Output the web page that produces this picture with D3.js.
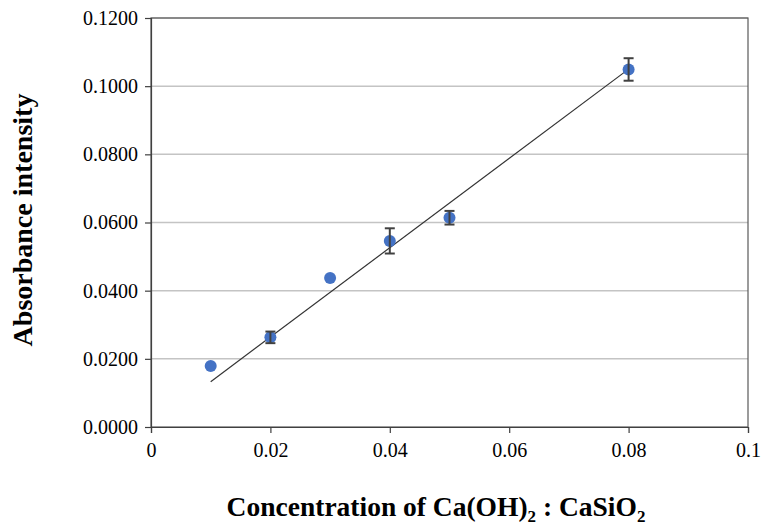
<!DOCTYPE html>
<html>
<head>
<meta charset="utf-8">
<script src="https://cdn.jsdelivr.net/npm/d3@7"></script>
<style>
  body { margin: 0; background: #fff; }
  svg text { font-family: "Liberation Serif", "Times New Roman", serif; }
</style>
</head>
<body>
<svg id="chart"></svg>
<script>
// data
const conc = [0.01, 0.02, 0.03, 0.04, 0.05, 0.08];
const absorb = [0.0179, 0.0263, 0.0437, 0.0546, 0.0614, 0.1049];
const errs = [0.0, 0.0017, 0.0, 0.0037, 0.002, 0.0033];
const trendX = [0.01, 0.08];
const trendY = [0.0133, 0.1050];
const xTicks = [0, 0.02, 0.04, 0.06, 0.08, 0.1];
const yTicks = [0, 0.02, 0.04, 0.06, 0.08, 0.1, 0.12];

const width = 763, height = 525;
const margin = { top: 18, right: 15, bottom: 98, left: 151 };
const serif = '"Liberation Serif", "Times New Roman", serif';

const svg = d3.select("#chart").attr("width", width).attr("height", height);

const x = d3.scaleLinear().domain([0, 0.1]).range([margin.left, width - margin.right]);
const y = d3.scaleLinear().domain([0, 0.12]).range([height - margin.bottom, margin.top]);

// gridlines
svg.append("g")
  .selectAll("line")
  .data(yTicks.slice(1))
  .enter()
  .append("line")
  .attr("x1", x(0))
  .attr("x2", x(0.1))
  .attr("y1", (d) => y(d))
  .attr("y2", (d) => y(d))
  .attr("stroke", "#c4c4c4")
  .attr("stroke-width", 1.5);

// plot border
svg.append("rect")
  .attr("x", x(0))
  .attr("y", y(0.12))
  .attr("width", x(0.1) - x(0))
  .attr("height", y(0) - y(0.12))
  .attr("fill", "none")
  .attr("stroke", "#595959")
  .attr("stroke-width", 1.2);

// axes
const yAxis = svg.append("g")
  .attr("transform", `translate(${x(0)},0)`)
  .call(d3.axisLeft(y).tickValues(yTicks).tickFormat(d3.format(".4f")).tickSize(6).tickPadding(7));

const xAxis = svg.append("g")
  .attr("transform", `translate(0,${y(0)})`)
  .call(d3.axisBottom(x).tickValues(xTicks).tickFormat((d) => d === 0 ? "0" : d3.format(".2~f")(d)).tickSize(6).tickPadding(10));

[yAxis, xAxis].forEach((a) => {
  a.attr("font-family", serif).attr("font-size", 20);
  a.select(".domain").attr("stroke", "#404040").attr("stroke-width", 1.2);
  a.selectAll(".tick line").attr("stroke", "#404040").attr("stroke-width", 1.2);
  a.selectAll("text").attr("fill", "#000");
});

// trend line
svg.append("path")
  .datum(trendX.map((d, i) => [d, trendY[i]]))
  .attr("fill", "none")
  .attr("stroke", "#333")
  .attr("stroke-width", 1.2)
  .attr("d", d3.line().x((d) => x(d[0])).y((d) => y(d[1])));

// points
svg.append("g")
  .selectAll("circle")
  .data(conc)
  .enter()
  .append("circle")
  .attr("cx", (d) => x(d))
  .attr("cy", (d, i) => y(absorb[i]))
  .attr("r", 6)
  .attr("fill", "#4472c4");

// error bars, drawn on top of the points
const eb = svg.append("g").attr("stroke", "#404040").attr("stroke-width", 2);
conc.forEach((c, i) => {
  if (!errs[i]) return;
  const cx = x(c);
  const top = y(absorb[i] + errs[i]), bot = y(absorb[i] - errs[i]);
  eb.append("line").attr("x1", cx).attr("x2", cx).attr("y1", top).attr("y2", bot);
  eb.append("line").attr("x1", cx - 5).attr("x2", cx + 5).attr("y1", top).attr("y2", top);
  eb.append("line").attr("x1", cx - 5).attr("x2", cx + 5).attr("y1", bot).attr("y2", bot);
});

// axis titles
const xt = svg.append("text")
  .attr("x", 436)
  .attr("y", 516)
  .attr("text-anchor", "middle")
  .attr("font-family", serif)
  .attr("font-size", 27.5)
  .attr("font-weight", "bold");
xt.append("tspan").text("Concentration of Ca(OH)");
xt.append("tspan").attr("font-size", 17).attr("dy", 6).text("2");
xt.append("tspan").attr("dy", -6).text(" : CaSiO");
xt.append("tspan").attr("font-size", 17).attr("dy", 6).text("2");

svg.append("text")
  .attr("transform", "translate(32,220) rotate(-90)")
  .attr("text-anchor", "middle")
  .attr("font-family", serif)
  .attr("font-size", 28)
  .attr("font-weight", "bold")
  .text("Absorbance intensity");
</script>
</body>
</html>
